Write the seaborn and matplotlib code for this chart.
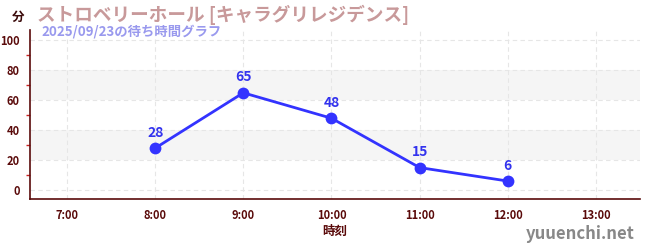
import matplotlib
matplotlib.use("Agg")
import matplotlib.pyplot as plt
import seaborn as sns
import pandas as pd
from matplotlib.ticker import MultipleLocator

hours = [8, 9, 10, 11, 12]
waits = [28, 65, 48, 15, 6]
tick_hours = [7, 8, 9, 10, 11, 12, 13]
tick_labels = ["7:00", "8:00", "9:00", "10:00", "11:00", "12:00", "13:00"]
title = "ストロベリーホール [キャラグリレジデンス]"
subtitle = "2025/09/23の待ち時間グラフ"

sns.set_theme(style="white")
plt.rcParams['font.family'] = ['Noto Sans CJK JP', 'DejaVu Sans']

df = pd.DataFrame({"hour": hours, "wait": waits})

fig = plt.figure(figsize=(6.5, 2.5), dpi=100)
ax = fig.add_axes([30/650, 1-199/250, 610/650, 169/250])

for lo, hi in [(20, 40), (60, 80)]:
    ax.axhspan(lo, hi, color="#f5f5f5", zorder=0, lw=0)

sns.lineplot(data=df, x="hour", y="wait", ax=ax, color="#3333ff", lw=2,
             marker="o", markersize=8.5, markeredgewidth=0, zorder=3)

for h, w in zip(hours, waits):
    ax.annotate(str(w), (h, w), xytext=(0, 6), textcoords="offset points",
                ha="center", va="bottom", color="#3333ee", fontsize=10, fontweight="bold")

ax.set_xlim(6.58, 13.5)
ax.set_ylim(-6, 107)
ax.set_xticks(tick_hours)
ax.set_xticklabels(tick_labels)
ax.set_yticks([0, 20, 40, 60, 80, 100])
ax.yaxis.set_minor_locator(MultipleLocator(10))
ax.grid(True, which="major", color="#e6e6e6", ls=(0, (4, 3)), lw=0.8)
ax.set_axisbelow(True)

for s in ["top", "right"]:
    ax.spines[s].set_visible(False)
for s in ["left", "bottom"]:
    ax.spines[s].set_color("#5a0a0a")
    ax.spines[s].set_linewidth(1.2)

ax.tick_params(axis="both", which="major", length=4, width=1, color="#333333",
               labelcolor="#5a0a0a", labelsize=8, direction="out")
ax.tick_params(axis="y", which="minor", length=3, width=1, color="#cc2222", left=True)
for lab in ax.get_xticklabels() + ax.get_yticklabels():
    lab.set_fontweight("bold")

ax.set_xlabel("時刻", fontsize=9, fontweight="bold", color="#5a0a0a", labelpad=2)
ax.set_ylabel("")

fig.text(18/650, 1-17/250, "分", fontsize=9, fontweight="bold", color="#3a0a0a",
         ha="center", va="center")
fig.text(37/650, 1-15/250, title, fontsize=13.4, fontweight="bold", color="#c8999a",
         ha="left", va="center")
fig.text(41/650, 1-32/250, subtitle, fontsize=9.6, fontweight="bold", color="#9999ee",
         ha="left", va="center")
fig.text(635/650, 1-234/250, "yuuenchi.net", fontsize=12, fontweight="bold", color="#888888",
         ha="right", va="center")

fig.savefig("out.png", dpi=100)
